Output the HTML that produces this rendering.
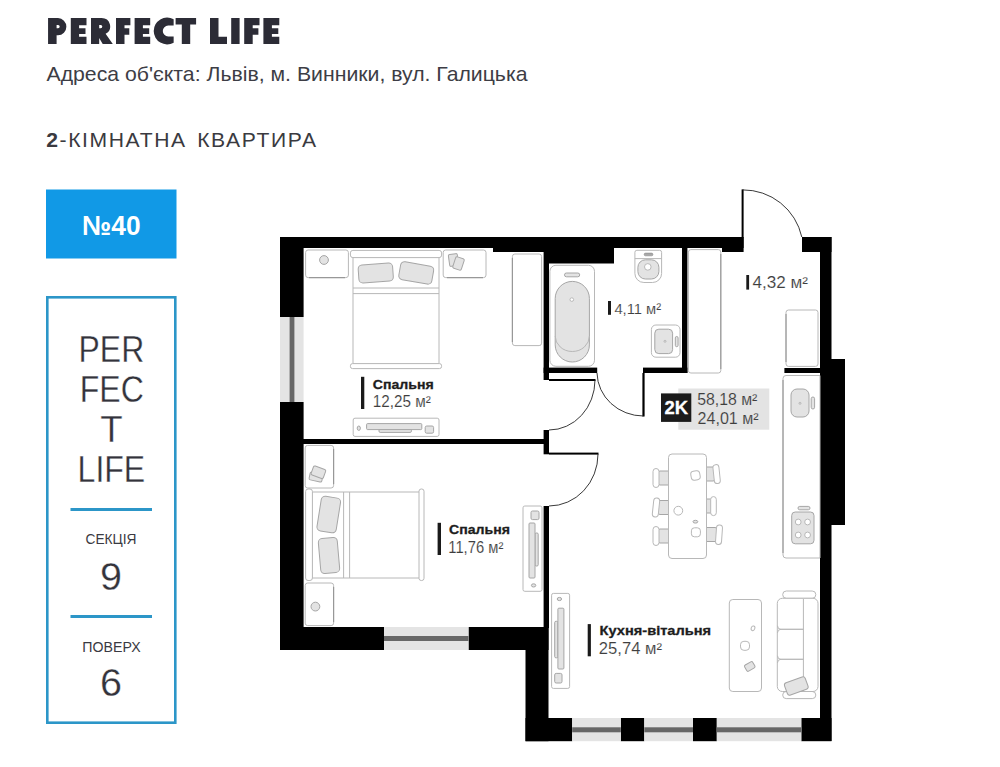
<!DOCTYPE html>
<html><head><meta charset="utf-8">
<style>
html,body{margin:0;padding:0;background:#fff;}
body{width:1000px;height:767px;overflow:hidden;font-family:"Liberation Sans",sans-serif;}
svg{display:block;}
text{font-family:"Liberation Sans",sans-serif;}
.w{fill:#000;}
.f{fill:#fff;stroke:#b8b8b8;stroke-width:1;}
.g{fill:#e3e3e3;stroke:#a6a6a6;stroke-width:1;}
.n{fill:none;stroke:#b8b8b8;stroke-width:1;}
.d{fill:none;stroke:#222;stroke-width:0.9;}
.lb{font-weight:bold;fill:#1d1d1d;}
.ln{fill:#3e3e3e;stroke:#fff;stroke-width:0.12;}
</style></head><body>
<svg width="1000" height="767" viewBox="0 0 1000 767">
<rect width="1000" height="767" fill="#fff"/>
<!-- HEADER -->
<g id="header">
<path fill="#2c2c36" fill-rule="evenodd" d="M48.06,18 H58 A8.65,8.68 0 0 1 58,35.35 H56.6 V44 H48.06 Z M56.6,25 h1.5 a1.6,1.6 0 0 1 0,3.2 h-1.5 z M70.8,18 H86.5 V25.3 H79.1 V28.2 H85.5 V34 H79.1 V36.65 H86.5 V44 H70.8 Z M91,18 H101.6 A8.6,8.35 0 0 1 105.6,33.7 L112.8,44 H102.7 L99.2,38 V44 H91 Z M99.2,25 h1.5 a1.6,1.6 0 0 1 0,3.2 h-1.5 z M116,18 H130.4 V25.3 H124.5 V28.2 H129.3 V34.7 H124.5 V44 H116 Z M134.6,18 H150.2 V25.3 H142.9 V28.2 H149.2 V34 H142.9 V36.65 H150.2 V44 H134.6 Z M173.65,19.3 A13.4,13.4 0 1 0 173.65,42.7 L173.65,36.6 L168.2,36.4 A5.4,5.4 0 0 1 168.2,25.6 L173.65,25.4 Z M175.6,18 H196.1 V24.6 H190.2 V44 H181.8 V24.6 H175.6 Z M210,18 H218.5 V36.65 H227 V44 H210 Z M231.2,18 H239.6 V44 H231.2 Z M244.2,18 H259.5 V25.3 H252.7 V28.2 H258.4 V34.7 H252.7 V44 H244.2 Z M263.4,18 H279.3 V25.3 H271.9 V28.2 H278.3 V34 H271.9 V36.65 H279.3 V44 H263.4 Z"/>
<text x="46.5" y="80.5" font-size="21" fill="#3d3d45" textLength="481" lengthAdjust="spacingAndGlyphs">Адреса об'єкта: Львів, м. Винники, вул. Галицька</text>
<text x="46.2" y="147.4" font-size="21" fill="#3a3a40" style="letter-spacing:1.6px;word-spacing:3px" textLength="271.5" lengthAdjust="spacingAndGlyphs"><tspan font-weight="bold">2</tspan>-КІМНАТНА КВАРТИРА</text>
</g>
<!-- LEFT PANEL -->
<g id="panel">
<rect x="46" y="189.5" width="130.5" height="69" fill="#1199e6"/>
<text x="111.3" y="235.3" font-size="27.6" font-weight="bold" fill="#fff" text-anchor="middle" textLength="58.6" lengthAdjust="spacingAndGlyphs">№40</text>
<rect x="47.3" y="297.3" width="128" height="425.4" fill="#fff" stroke="#2c96c8" stroke-width="2.6"/>
<g font-size="36.6" fill="#33333b" stroke="#fff" stroke-width="0.3" text-anchor="middle">
<text x="111.4" y="361.8" textLength="65.6" lengthAdjust="spacingAndGlyphs">PER</text>
<text x="111.8" y="401.8" textLength="64" lengthAdjust="spacingAndGlyphs">FEC</text>
<text x="111.5" y="441.5" textLength="22.4" lengthAdjust="spacingAndGlyphs">T</text>
<text x="111.4" y="481.6" textLength="67.6" lengthAdjust="spacingAndGlyphs">LIFE</text>
<text x="110.9" y="589.5" font-size="39.5" textLength="22" lengthAdjust="spacingAndGlyphs">9</text>
<text x="111.1" y="696" font-size="39.5" textLength="22" lengthAdjust="spacingAndGlyphs">6</text>
</g>
<rect x="70.5" y="508" width="81.5" height="3" fill="#2c96c8"/>
<rect x="70.5" y="615" width="81.5" height="3" fill="#2c96c8"/>
<g font-size="14.8" fill="#3a3a42" text-anchor="middle">
<text x="111" y="544" textLength="51" lengthAdjust="spacingAndGlyphs">СЕКЦІЯ</text>
<text x="111.5" y="651.5" textLength="58.3" lengthAdjust="spacingAndGlyphs">ПОВЕРХ</text>
</g>
</g>
<!-- WALLS -->
<g id="walls" class="w">
<rect x="280" y="237" width="463.6" height="11"/>
<rect x="493" y="237" width="51" height="15"/>
<rect x="544" y="237" width="70" height="26.5"/>
<rect x="722" y="237" width="21.6" height="15"/>
<rect x="280" y="237" width="23.6" height="80"/>
<rect x="280" y="402" width="23.6" height="248"/>
<rect x="280" y="627" width="104" height="23"/>
<rect x="468.5" y="627" width="80" height="23"/>
<rect x="525.5" y="627" width="23" height="114.2"/>
<rect x="525.5" y="718" width="46.7" height="23.2"/>
<rect x="620.8" y="718" width="23.5" height="23.2"/>
<rect x="693" y="718" width="23.8" height="23.2"/>
<rect x="801.3" y="718" width="30.2" height="23.2"/>
<rect x="820" y="237" width="11.5" height="504"/>
<rect x="802" y="237" width="29.5" height="15"/>
<rect x="820" y="359" width="25" height="166"/>
<rect x="303" y="439" width="241" height="5"/>
<rect x="543.6" y="248" width="5.4" height="132"/>
<rect x="543.6" y="367.6" width="53.6" height="5.4"/>
<rect x="643" y="367.6" width="44.4" height="5.4"/>
<rect x="682" y="248" width="5.4" height="125"/>
<rect x="543.6" y="430" width="5.4" height="24.3"/>
<rect x="543.6" y="506" width="5.4" height="122"/>
<rect x="784.4" y="368" width="36" height="5"/>
</g>
<!-- WINDOWS -->
<g id="windows">
<rect x="280" y="317" width="23.6" height="85" fill="#e4e4e4"/><rect x="289.6" y="317" width="4.8" height="85" fill="#676767"/>
<rect x="384" y="627" width="84.5" height="23" fill="#e4e4e4"/><rect x="384" y="636" width="84.5" height="5" fill="#676767"/>
<rect x="572.2" y="718" width="48.6" height="23.2" fill="#e4e4e4"/><rect x="572.2" y="727.3" width="48.6" height="5" fill="#676767"/>
<rect x="644.3" y="718" width="48.7" height="23.2" fill="#e4e4e4"/><rect x="644.3" y="727.3" width="48.7" height="5" fill="#676767"/>
<rect x="716.8" y="718" width="84.5" height="23.2" fill="#e4e4e4"/><rect x="716.8" y="727.3" width="84.5" height="5" fill="#676767"/>
</g>
<!-- DOORS -->
<g id="doors">
<rect x="741.6" y="189.4" width="2" height="48" fill="#000"/>
<path class="d" d="M742.6,189.9 A60,60 0 0 1 801.8,237"/>
<rect x="642.4" y="373" width="2.2" height="43.5" fill="#000"/>
<path class="d" d="M597,373 A46.5,44 0 0 0 643.5,416"/>
<rect x="549" y="379" width="46.5" height="2" fill="#000"/>
<path class="d" d="M595,380 A46,50 0 0 1 549,430"/>
<rect x="549" y="452.6" width="49.5" height="2" fill="#000"/>
<path class="d" d="M598,454 A49,52 0 0 1 549,506"/>
</g>
<!-- FURNITURE -->
<g id="furn">
<!-- bedroom 1 -->
<rect class="f" x="305.6" y="250" width="42.8" height="27.6" rx="2.5"/>
<circle class="g" cx="324" cy="260" r="4.4"/>
<rect class="f" x="443.2" y="250" width="42.8" height="27.6" rx="2.5"/>
<rect class="g" x="449" y="254" width="9" height="12" rx="1.5" transform="rotate(-8 453.5 260)"/>
<rect class="g" x="454" y="257.5" width="9" height="12" rx="1.5" transform="rotate(18 458.5 263.5)"/>
<rect class="f" x="353" y="257" width="86" height="107"/>
<rect class="f" x="350.4" y="250.4" width="91.2" height="7.2" rx="2.5"/>
<rect class="f" x="350.4" y="363.6" width="91.2" height="5" rx="2.2"/>
<line class="n" x1="353" y1="288" x2="439" y2="288"/>
<line class="n" x1="353" y1="293.6" x2="439" y2="293.6"/>
<rect class="g" x="358.5" y="264" width="34.5" height="18" rx="4" transform="rotate(-4 375.8 273)"/>
<rect class="g" x="399.5" y="263.8" width="33.5" height="18.2" rx="4" transform="rotate(10 416.2 272.8)"/>
<rect class="f" x="353.2" y="418.2" width="85.8" height="18.2" rx="1.8"/>
<rect class="g" x="379" y="429" width="32.4" height="3.4" rx="1.2" stroke-width="0.5"/>
<rect class="g" x="366.6" y="423.6" width="55.2" height="6" rx="1"/>
<ellipse class="g" cx="358.8" cy="428.2" rx="1.6" ry="2.2"/>
<rect class="g" x="425.2" y="426" width="8.4" height="7.2" rx="1.5"/>
<rect class="f" x="512.4" y="254" width="29.2" height="91.6" rx="2.5"/>
<!-- bathroom -->
<rect class="f" x="549.9" y="265.3" width="44.6" height="101" rx="6"/>
<rect class="g" x="555.2" y="281.4" width="34.2" height="80.6" rx="17.1"/>
<path class="n" d="M555.2,336 A17.1,15.5 0 0 0 589.4,336" stroke="#9a9a9a"/>
<circle class="f" cx="571.8" cy="299.6" r="1.8" stroke="#8a8a8a"/>
<rect class="g" x="564.5" y="273" width="15.2" height="3.8" rx="1.9"/>
<path class="f" d="M634.9,252.3 a2,2 0 0 1 2,-2 h22.7 a2,2 0 0 1 2,2 v21.2 a9,9 0 0 1 -9,9 h-8.7 a9,9 0 0 1 -9,-9 z"/>
<line class="n" x1="634.9" y1="258.6" x2="661.6" y2="258.6"/>
<rect class="g" x="637.9" y="259.8" width="21" height="19.2" rx="7.5"/>
<circle class="f" cx="647.8" cy="266.9" r="3.3" stroke="#8a8a8a"/>
<rect x="644.2" y="253.1" width="8.7" height="2.7" rx="1.3" fill="#a8a8a8" stroke="#8c8c8c" stroke-width="0.6"/>
<rect class="f" x="651.4" y="325" width="28.6" height="32.2" rx="4.5"/>
<rect class="g" x="654.8" y="329.2" width="17.8" height="24.4" rx="4"/>
<circle class="n" cx="665" cy="341.3" r="1" stroke="#888"/>
<rect class="g" x="675.3" y="336.5" width="2.8" height="10.2" rx="1.4"/>
<!-- hallway -->
<rect class="f" x="688.4" y="249.6" width="32.4" height="123.4" rx="2.5"/>
<rect class="f" x="786" y="310" width="32" height="56.4" rx="2.5"/>
<!-- kitchen counter -->
<path class="f" d="M820,375.5 h-34 a3,3 0 0 0 -3,3 v176.5 a3,3 0 0 0 3,3 h34 z" />
<rect class="g" x="791" y="389" width="18" height="28" rx="6"/>
<circle class="n" cx="800" cy="403.3" r="1" stroke="#888"/>
<rect class="g" x="811.2" y="397" width="3.4" height="12" rx="1.7"/>
<rect class="g" x="791.7" y="512" width="22.3" height="31.8" rx="3.5"/>
<circle class="f" cx="798.2" cy="522" r="2.9" stroke="#888"/><circle class="f" cx="807.6" cy="522" r="2.9" stroke="#888"/>
<circle class="f" cx="798.2" cy="535" r="2.9" stroke="#888"/><circle class="f" cx="807.6" cy="535" r="2.9" stroke="#888"/>
<rect class="g" x="798" y="506.4" width="12" height="3.4" rx="1.7"/>
<!-- bedroom 2 -->
<rect class="f" x="305.2" y="445.4" width="28.4" height="42.6" rx="2.5"/>
<rect class="g" x="309.5" y="473" width="13" height="8" rx="1.5" transform="rotate(12 316 477)"/>
<rect class="g" x="312" y="467.5" width="13" height="9.5" rx="1.5" transform="rotate(20 318.5 472)"/>
<rect class="f" x="312" y="492" width="107.5" height="86"/>
<rect class="f" x="305.6" y="489" width="6.8" height="91.5" rx="2.5"/>
<rect class="f" x="419" y="489" width="5" height="91.5" rx="2.2"/>
<line class="n" x1="343.6" y1="492" x2="343.6" y2="578"/>
<line class="n" x1="349.6" y1="492" x2="349.6" y2="578"/>
<rect class="g" x="319" y="497" width="19.5" height="35" rx="4" transform="rotate(9 328.7 514.5)"/>
<rect class="g" x="319.5" y="538" width="19" height="35" rx="4" transform="rotate(-5 329 555.5)"/>
<rect class="f" x="305.2" y="583" width="28.4" height="42.6" rx="2.5"/>
<circle class="g" cx="315.4" cy="606.6" r="4.4"/>
<rect class="f" x="523" y="506" width="19" height="85.3" rx="1.8"/>
<rect class="g" x="531" y="511" width="8" height="8.6" rx="1.5"/>
<rect class="g" x="535" y="533" width="3.2" height="33" rx="1.2" stroke-width="0.5"/>
<rect class="g" x="529" y="523" width="6" height="55" rx="1"/>
<ellipse class="g" cx="533.6" cy="585.4" rx="2.2" ry="1.6"/>
<!-- living -->
<rect class="f" x="551.6" y="593.4" width="18" height="95" rx="1.8"/>
<ellipse class="g" cx="559.4" cy="599" rx="2.2" ry="1.6"/>
<rect class="g" x="554.7" y="621.3" width="3.2" height="36.5" rx="1.2" stroke-width="0.5"/>
<rect class="g" x="557.9" y="608.2" width="6" height="60.8" rx="1"/>
<rect class="g" x="554.7" y="673.4" width="7.3" height="9.6" rx="1.5"/>
<!-- dining -->
<g id="chairs">
<rect class="g" x="658" y="471" width="12" height="14" rx="2"/><rect class="f" x="653" y="468.5" width="6" height="19" rx="3"/>
<rect class="g" x="658" y="500.5" width="12" height="14" rx="2"/><rect class="f" x="653" y="498" width="6" height="19" rx="3" transform="rotate(6 656 507.5)"/>
<rect class="g" x="658" y="529" width="12" height="14" rx="2"/><rect class="f" x="653" y="526.5" width="6" height="19" rx="3"/>
<rect class="g" x="705" y="467" width="10" height="14" rx="2"/><rect class="f" x="713.6" y="464.6" width="6" height="19" rx="3" transform="rotate(-6 716.6 474)"/>
<rect class="g" x="705" y="499" width="8" height="14" rx="2"/><rect class="f" x="710.7" y="496.6" width="5.6" height="19" rx="2.8"/>
<rect class="g" x="705" y="527.5" width="12" height="14" rx="2"/><rect class="f" x="716" y="525" width="6" height="19.4" rx="3" transform="rotate(4 719 534.7)"/>
</g>
<rect class="f" x="668.5" y="454" width="38" height="104.5" rx="3.5"/>
<rect class="f" x="691" y="471" width="9" height="9" rx="3" stroke="#8a8a8a" transform="rotate(-10 695.5 475.5)"/>
<circle class="f" cx="678.3" cy="510.7" r="4.4" stroke="#8a8a8a"/>
<ellipse class="g" cx="695.4" cy="521.7" rx="2.4" ry="1.4"/>
<rect class="f" x="691.4" y="527.8" width="9" height="9" rx="3" stroke="#8a8a8a"/>
<!-- coffee table + sofa -->
<rect class="f" x="729.3" y="599.5" width="32.2" height="92" rx="3.5"/>
<ellipse class="f" cx="753" cy="628.3" rx="1.8" ry="2.4" stroke="#8a8a8a" transform="rotate(20 753 628.3)"/>
<rect class="f" x="740.5" y="641.3" width="9" height="9" rx="3.4" stroke="#8a8a8a"/>
<rect class="g" x="745" y="663" width="9.4" height="7" rx="1.5" transform="rotate(-30 749.7 666.4)"/>
<rect class="f" x="782.7" y="591" width="33.1" height="7.3" rx="3.6"/>
<rect class="f" x="782.7" y="691.5" width="33.1" height="7.1" rx="3.5"/>
<rect class="f" x="777.3" y="598.3" width="40.7" height="93.2" rx="5"/>
<line class="n" x1="803.4" y1="599" x2="803.4" y2="691"/>
<path class="n" d="M803.4,629.3 H781 a3.5,3.5 0 0 1 -3.5,-3.5 M803.4,629.3 H781 a3.5,3.5 0 0 0 -3.5,3.5 M803.4,659.3 H781 a3.5,3.5 0 0 1 -3.5,-3.5 M803.4,659.3 H781 a3.5,3.5 0 0 0 -3.5,3.5"/>
<rect class="g" x="785.3" y="679.5" width="22" height="13" rx="2.5" transform="rotate(-20 796.3 686)"/>
</g>
<g stroke="#8f8f8f" stroke-width="1.2" fill="none" opacity="0.8">
<line x1="309" y1="277.6" x2="345" y2="277.6"/><line x1="447" y1="277.6" x2="483" y2="277.6"/>
<line x1="333.6" y1="449" x2="333.6" y2="484"/><line x1="333.6" y1="587" x2="333.6" y2="622"/>
<line x1="512.4" y1="258" x2="512.4" y2="342"/><line x1="720.8" y1="254" x2="720.8" y2="369"/>
<line x1="786" y1="314" x2="786" y2="362"/><line x1="783" y1="380" x2="783" y2="553"/>
</g>
<!-- LABELS -->
<g id="labels">
<rect x="678.3" y="388.5" width="91" height="41.2" fill="#e3e3e3"/>
<rect x="661" y="393.4" width="30.3" height="28.5" fill="#1b1b1b"/>
<text x="664.6" y="414" font-size="18.4" font-weight="bold" fill="#fff" stroke="#fff" stroke-width="0.3" textLength="23.6" lengthAdjust="spacingAndGlyphs">2K</text>
<g font-size="16" fill="#3e3e3e" stroke="#e3e3e3" stroke-width="0.12">
<text x="697.2" y="405" textLength="60.2" lengthAdjust="spacingAndGlyphs">58,18 м²</text>
<text x="697.6" y="424.2" textLength="61" lengthAdjust="spacingAndGlyphs">24,01 м²</text>
</g>
<g fill="#1a1a1a">
<rect x="361" y="376.8" width="3.3" height="32.2"/>
<rect x="437.6" y="522.8" width="3.4" height="32.2"/>
<rect x="587.7" y="624.1" width="3.2" height="32.2"/>
<rect x="608" y="301" width="3" height="13.8"/>
<rect x="746.3" y="275" width="2.8" height="14.6"/>
</g>
<g font-size="13.5" class="lb" stroke="#1d1d1d" stroke-width="0.3">
<text x="372.8" y="388.5" textLength="61" lengthAdjust="spacingAndGlyphs">Спальня</text>
<text x="449" y="534" textLength="61" lengthAdjust="spacingAndGlyphs">Спальня</text>
<text x="599.6" y="634.6" textLength="111.5" lengthAdjust="spacingAndGlyphs">Кухня-вітальня</text>
</g>
<g font-size="16" class="ln">
<text x="372.8" y="407.2" textLength="58" lengthAdjust="spacingAndGlyphs">12,25 м²</text>
<text x="448.3" y="553" textLength="55" lengthAdjust="spacingAndGlyphs">11,76 м²</text>
<text x="598.8" y="653.9" textLength="63.2" lengthAdjust="spacingAndGlyphs">25,74 м²</text>
<text x="614.4" y="313.6" font-size="15.5" textLength="46.8" lengthAdjust="spacingAndGlyphs">4,11 м²</text>
<text x="752.6" y="288" textLength="55.4" lengthAdjust="spacingAndGlyphs">4,32 м²</text>
</g>
</g>
</svg>
</body></html>
